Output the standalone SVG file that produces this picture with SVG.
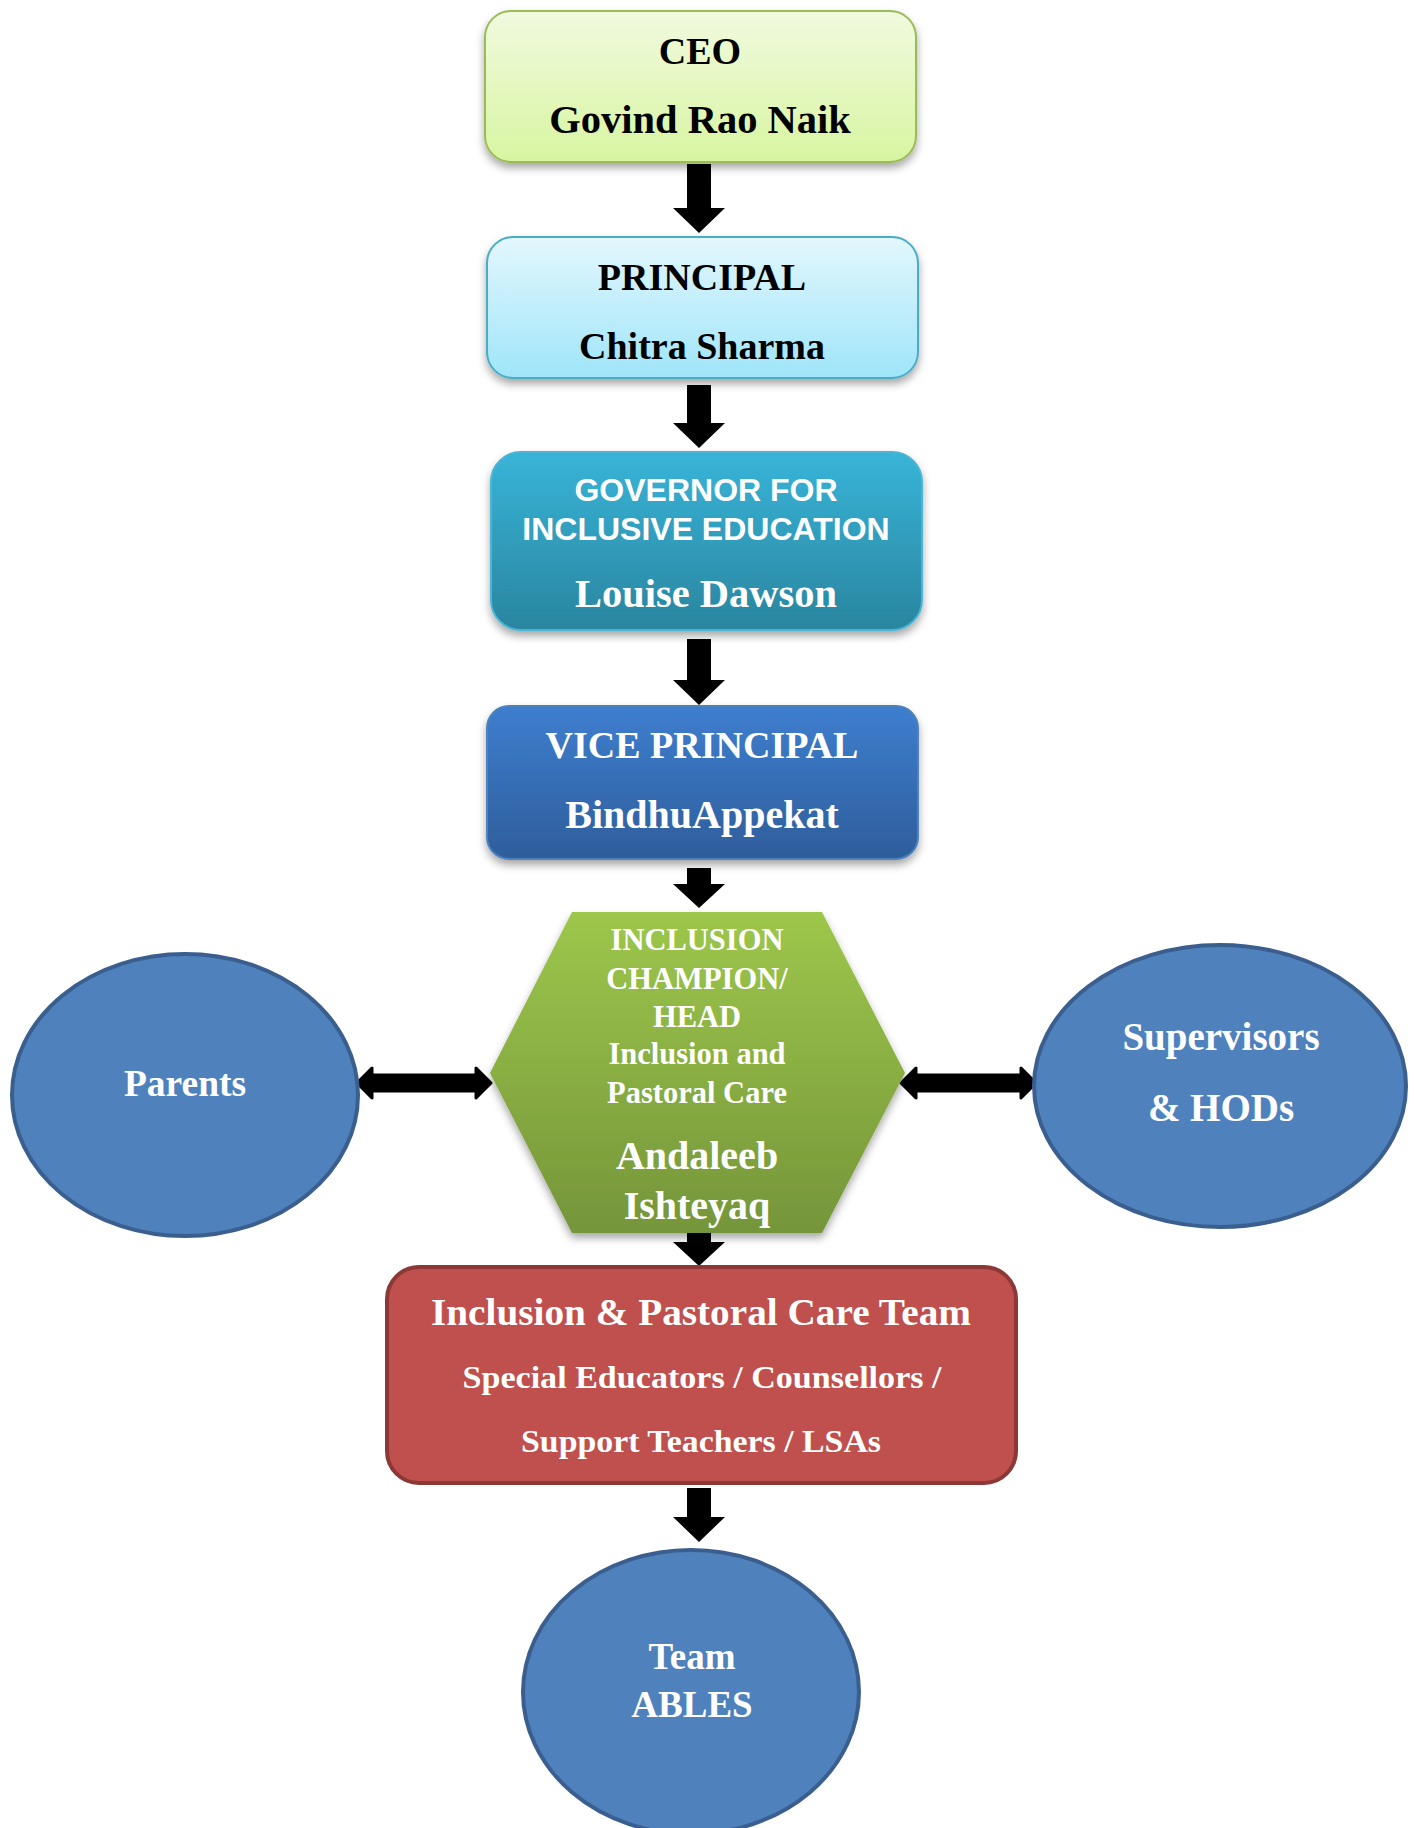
<svg xmlns="http://www.w3.org/2000/svg" width="1415" height="1828" viewBox="0 0 1415 1828">
<defs>
<linearGradient id="gCeo" x1="0" y1="0" x2="0" y2="1"><stop offset="0" stop-color="#f1fadf"/><stop offset="1" stop-color="#d8f5a1"/></linearGradient>
<linearGradient id="gPri" x1="0" y1="0" x2="0" y2="1"><stop offset="0" stop-color="#e3f7fd"/><stop offset="1" stop-color="#9fe5fa"/></linearGradient>
<linearGradient id="gGov" x1="0" y1="0" x2="0" y2="1"><stop offset="0" stop-color="#38b4d8"/><stop offset="1" stop-color="#2a859f"/></linearGradient>
<linearGradient id="gVp" x1="0" y1="0" x2="0" y2="1"><stop offset="0" stop-color="#3e7ecf"/><stop offset="1" stop-color="#2e5e9b"/></linearGradient>
<linearGradient id="gHex" x1="0" y1="0" x2="0" y2="1"><stop offset="0" stop-color="#9dc74b"/><stop offset="1" stop-color="#75953a"/></linearGradient>
<filter id="sh" x="-10%" y="-10%" width="120%" height="130%">
<feDropShadow dx="0" dy="5" stdDeviation="4" flood-color="#000" flood-opacity="0.35"/>
</filter>
</defs>
<style>
.ser{font-family:"Liberation Serif","DejaVu Serif",serif;font-weight:bold;text-anchor:middle}
.san{font-family:"Liberation Sans",Arial,sans-serif;font-weight:bold;text-anchor:middle}
.blk{fill:#000}
.wht{fill:#fff}
.ell{fill:#4f81bd;stroke:#3a5f8e;stroke-width:4}
.arr{fill:#000}
.dbl{fill:#000;stroke:#000;stroke-width:3;stroke-linejoin:round}
</style>

<g id="connectors">
<path class="arr" d="M687,164 L711,164 L711,208 L725,208 L699,233 L673,208 L687,208 Z"/>
<path class="arr" d="M687,385 L711,385 L711,423 L725,423 L699,448 L673,423 L687,423 Z"/>
<path class="arr" d="M687,639 L711,639 L711,680 L725,680 L699,705 L673,680 L687,680 Z"/>
<path class="arr" d="M687,868 L711,868 L711,884 L725,884 L699,908 L673,884 L687,884 Z"/>
<path class="arr" d="M687,1230 L711,1230 L711,1242 L725,1242 L699,1266 L673,1242 L687,1242 Z"/>
<path class="arr" d="M687,1488 L711,1488 L711,1517 L725,1517 L699,1542 L673,1517 L687,1517 Z"/>
<path class="dbl" d="M357,1083 L372,1068 L372,1075 L476,1075 L476,1068 L491,1083 L476,1098 L476,1091 L372,1091 L372,1098 Z"/>
<path class="dbl" d="M901,1083 L916,1068 L916,1075 L1021,1075 L1021,1068 L1036,1083 L1021,1098 L1021,1091 L916,1091 L916,1098 Z"/>
</g>

<g id="ceo">
<rect x="485" y="11" width="431" height="151" rx="26" fill="url(#gCeo)" stroke="#9bbb59" stroke-width="2" filter="url(#sh)"/>
<text class="ser blk" x="700" y="64" font-size="38">CEO</text>
<text class="ser blk" x="700" y="133" font-size="40.5">Govind Rao Naik</text>
</g>

<g id="principal">
<rect x="487" y="237" width="431" height="141" rx="26" fill="url(#gPri)" stroke="#4bacc6" stroke-width="2" filter="url(#sh)"/>
<text class="ser blk" x="702" y="290" font-size="38">PRINCIPAL</text>
<text class="ser blk" x="702" y="359" font-size="38">Chitra Sharma</text>
</g>

<g id="governor">
<rect x="491" y="452" width="431" height="178" rx="30" fill="url(#gGov)" stroke="#4bb5d3" stroke-width="2" filter="url(#sh)"/>
<text class="san wht" x="706" y="501" font-size="32">GOVERNOR FOR</text>
<text class="san wht" x="706" y="540" font-size="32">INCLUSIVE EDUCATION</text>
<text class="ser wht" x="706" y="607" font-size="40.5">Louise Dawson</text>
</g>

<g id="vice-principal">
<rect x="487" y="706" width="431" height="153" rx="22" fill="url(#gVp)" stroke="#4f81bd" stroke-width="2" filter="url(#sh)"/>
<text class="ser wht" x="702" y="758" font-size="38">VICE PRINCIPAL</text>
<text class="ser wht" x="702" y="828" font-size="40">BindhuAppekat</text>
</g>

<g id="inclusion-champion">
<polygon points="572,912 822,912 905,1073 822,1233 572,1233 490,1073" fill="url(#gHex)" filter="url(#sh)"/>
<text class="ser wht" x="697" y="950" font-size="30.5">INCLUSION</text>
<text class="ser wht" x="697" y="989" font-size="30.5">CHAMPION/</text>
<text class="ser wht" x="697" y="1027" font-size="30.5">HEAD</text>
<text class="ser wht" x="697" y="1064" font-size="30.5">Inclusion and</text>
<text class="ser wht" x="697" y="1103" font-size="30.5">Pastoral Care</text>
<text class="ser wht" x="697" y="1169" font-size="40">Andaleeb</text>
<text class="ser wht" x="697" y="1219" font-size="40">Ishteyaq</text>
</g>

<g id="parents">
<ellipse class="ell" cx="185" cy="1095" rx="173" ry="141"/>
<text class="ser wht" x="185" y="1096" font-size="37.5">Parents</text>
</g>

<g id="supervisors">
<ellipse class="ell" cx="1220" cy="1086" rx="186" ry="141"/>
<text class="ser wht" x="1221" y="1050" font-size="39">Supervisors</text>
<text class="ser wht" x="1221" y="1121" font-size="39">&amp; HODs</text>
</g>

<g id="team">
<rect x="387" y="1267" width="629" height="216" rx="32" fill="#c0504d" stroke="#8c3836" stroke-width="4"/>
<text class="ser wht" x="701" y="1325" font-size="37" textLength="540" lengthAdjust="spacingAndGlyphs">Inclusion &amp; Pastoral Care Team</text>
<text class="ser wht" x="702" y="1388" font-size="32" textLength="479" lengthAdjust="spacingAndGlyphs">Special Educators / Counsellors /</text>
<text class="ser wht" x="701" y="1452" font-size="32" textLength="360" lengthAdjust="spacingAndGlyphs">Support Teachers / LSAs</text>
</g>

<g id="team-ables">
<ellipse class="ell" cx="691" cy="1692" rx="168" ry="142"/>
<text class="ser wht" x="692" y="1669" font-size="37">Team</text>
<text class="ser wht" x="692" y="1717" font-size="37">ABLES</text>
</g>
</svg>
